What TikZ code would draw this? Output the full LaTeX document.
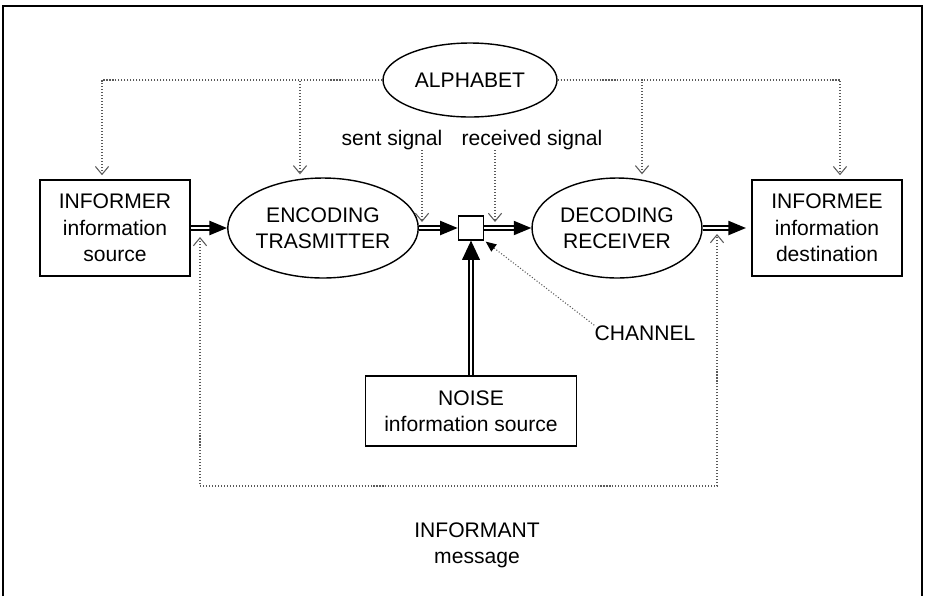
\documentclass[tikz,border=0pt]{standalone}
\usepackage{fontspec}
\setmainfont{Liberation Sans}
\usetikzlibrary{shapes.geometric,arrows.meta,calc}
\tikzset{
  txt/.style={font=\fontsize{12}{15}\selectfont, align=center, inner sep=0pt},
  box/.style={txt, draw, line width=0.9pt, minimum width=3cm, minimum height=1.92cm},
  oval/.style={txt, ellipse, draw, line width=0.8pt, minimum width=3.4cm, minimum height=2cm},
  flow/.style={double, line width=1.1pt, double distance=1.5pt, -{Triangle[length=10pt,width=8pt]}},
  feed/.style={black!65, line width=0.6pt, dash pattern=on 0.6pt off 1.1pt, >={Straight Barb[length=4.5pt,width=7.5pt]}},
}

\begin{document}
\begin{tikzpicture}[x=0.02cm, y=-0.02cm]
\useasboundingbox (0,0) rectangle (925,596);
\draw[line width=1.6pt] (3,596) -- (3,6) -- (922,6) -- (922,596);
%
%
\node[box] (inf) at (115,228) {INFORMER\\information\\source};
\node[oval] (enc) at (323,228) {ENCODING\\TRASMITTER};
\node[draw, line width=0.9pt, minimum width=0.5cm, minimum height=0.47cm, inner sep=0pt] (sq) at (471,228) {};
\node[oval] (dec) at (617,228) {DECODING\\RECEIVER};
\node[box] (infee) at (827,228) {INFORMEE\\information\\destination};
\node[oval, minimum width=3.48cm, minimum height=1.48cm] (alph) at (470,80) {ALPHABET};
\node[box, minimum width=4.22cm, minimum height=1.4cm] (noise) at (471,411) {NOISE\\information source};
\node[txt] (sent) at (392,140) {sent signal};
\node[txt] (recv) at (532,140) {received signal};
\node[txt] (chan) at (645,333) {CHANNEL};
\node[txt] (infm) at (477,545) {INFORMANT\\message};
%
%
\coordinate (s1) at (422,222);
\coordinate (s2) at (495,222);
\coordinate (fb1) at (200,237);
\coordinate (fb2) at (717,234);
%
%
\draw[flow] (inf.east) -- (enc.west);
\draw[flow] (enc.east) -- (sq.west);
\draw[flow] (sq.east) -- (dec.west);
\draw[flow, shorten >=3pt] (dec.east) -- (infee.west);
\draw[flow, -{Triangle[length=11pt,width=10pt]}] (noise.north) -- (sq.south);
%
%
\draw[feed, ->] (alph.west) -| ([xshift=-0.26cm, yshift=0.08cm]inf.north);
\draw[feed, ->] (alph.west) -| ([xshift=-0.46cm, yshift=0.06cm]enc.north);
\draw[feed, ->] (alph.east) -| ([xshift=0.5cm, yshift=0.06cm]dec.north);
\draw[feed, ->] (alph.east) -| ([xshift=0.26cm, yshift=0.08cm]infee.north);
\draw[feed, ->] (sent.south -| s1) -- (s1);
\draw[feed, ->] (recv.south -| s2) -- (s2);
\draw[feed, <->] (fb1) -- ++(0,249) -| (fb2);
\draw[feed, -{Triangle[length=6pt,width=5pt,color=black]}, shorten >=1pt] (chan.north west) -- (sq.south east);
%
%
\end{tikzpicture}
\end{document}
